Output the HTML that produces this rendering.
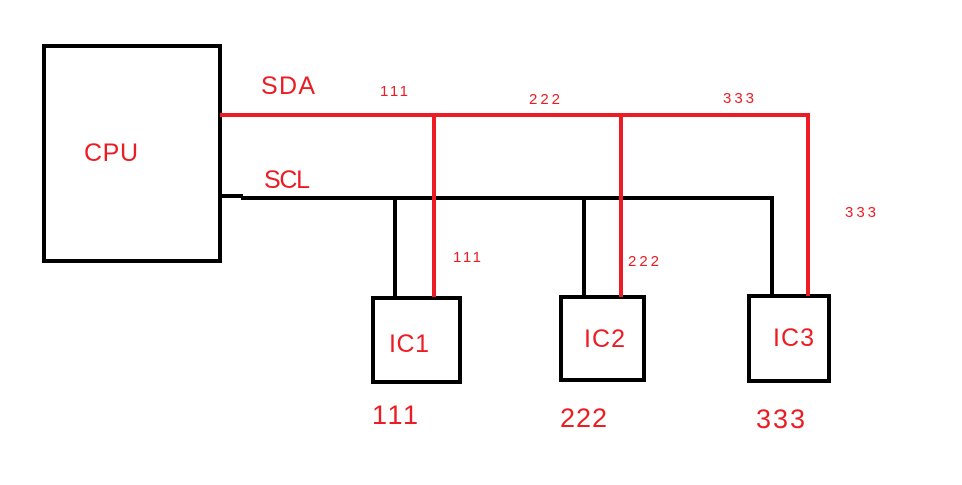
<!DOCTYPE html>
<html><head><style>
body{margin:0;background:#fff;width:962px;height:480px;overflow:hidden}
svg text{font-family:"Liberation Sans","DejaVu Sans",sans-serif;fill:#ed1c24}
</style></head><body>
<svg width="962" height="480" viewBox="0 0 962 480" xmlns="http://www.w3.org/2000/svg">
<rect x="0" y="0" width="962" height="480" fill="#fff"/>
<g fill="none" stroke="#000" stroke-width="4">
<rect x="44" y="46" width="176" height="215"/>
<line x1="220" y1="196" x2="243" y2="196"/>
<line x1="241" y1="198" x2="774" y2="198"/>
<line x1="395" y1="196" x2="395" y2="298"/>
<line x1="584" y1="196" x2="584" y2="298"/>
<line x1="772" y1="196" x2="772" y2="297"/>
<rect x="373" y="298" width="87" height="84"/>
<rect x="561" y="297" width="83" height="83"/>
<rect x="749" y="296" width="80" height="85"/>
</g>
<g fill="none" stroke="#ed1c24" stroke-width="4">
<polyline points="220,115 808,115 808,296"/>
<line x1="434" y1="115" x2="434" y2="297"/>
<line x1="621" y1="115" x2="621" y2="297"/>
</g>
<text x="84" y="161" font-size="25" textLength="54">CPU</text>
<text x="261" y="94" font-size="25" textLength="54">SDA</text>
<text x="264" y="188" font-size="25" textLength="46">SCL</text>
<text x="380" y="96" font-size="15" textLength="28">111</text>
<text x="529" y="104" font-size="15" textLength="31">222</text>
<text x="723" y="103" font-size="15" textLength="31">333</text>
<text x="845" y="217" font-size="15" textLength="31">333</text>
<text x="453" y="262" font-size="15" textLength="28">111</text>
<text x="628" y="266" font-size="15" textLength="31">222</text>
<text x="389" y="352" font-size="25" textLength="40">IC1</text>
<text x="584" y="347" font-size="25" textLength="41">IC2</text>
<text x="773" y="346" font-size="25" textLength="41">IC3</text>
<text x="372" y="424" font-size="27" textLength="46">111</text>
<text x="560" y="427" font-size="27" textLength="47">222</text>
<text x="756" y="428" font-size="27" textLength="49">333</text>
</svg>
</body></html>
